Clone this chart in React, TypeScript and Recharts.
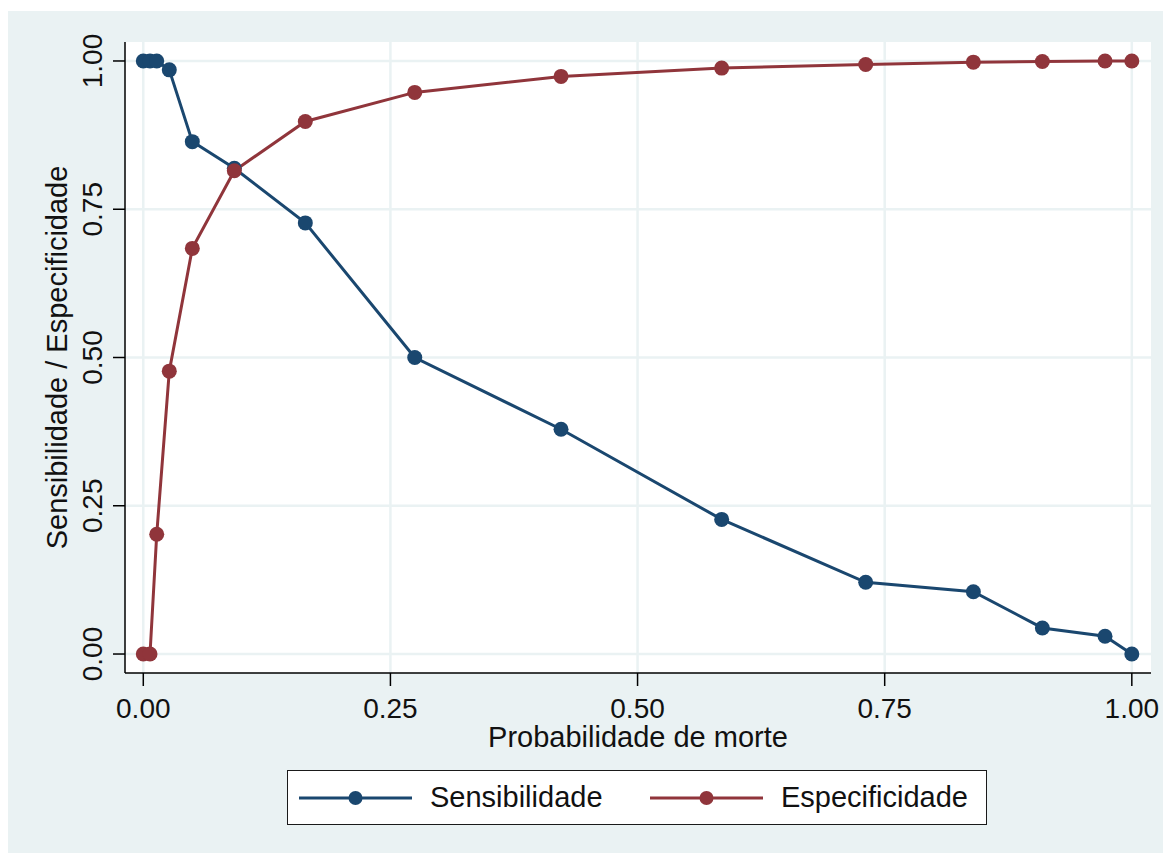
import { LineChart, Line, XAxis, YAxis, CartesianGrid } from "recharts";

// cut-off probabilities and the two curves evaluated at each one
const prob = [0, 0.0068, 0.0136, 0.0263, 0.0496, 0.0921, 0.1639, 0.2746, 0.4226, 0.5851, 0.7308, 0.8397, 0.9095, 0.9729, 1.0];
const sensibilidade = [1, 1, 1, 0.985, 0.864, 0.819, 0.727, 0.5, 0.379, 0.227, 0.121, 0.105, 0.044, 0.03, 0];
const especificidade = [0, 0, 0.202, 0.477, 0.684, 0.815, 0.898, 0.947, 0.974, 0.988, 0.994, 0.998, 0.999, 1, 1];

const xTicks = [0, 0.25, 0.5, 0.75, 1];
const yTicks = [0, 0.25, 0.5, 0.75, 1];

const series = [
  { key: "sens", name: "Sensibilidade", color: "#1A476F" },
  { key: "espec", name: "Especificidade", color: "#90353B" },
];

const data = prob.map((x, i) => ({
  x,
  sens: sensibilidade[i],
  espec: especificidade[i],
}));

const FONT = '"Liberation Sans", Arial, Helvetica, sans-serif';
const BG = "#EAF2F3";
const INK = "#111";

const W = 1163;
const H = 845;
const MARGIN = { top: 31, right: 20, left: 0, bottom: 0 };
const Y_AXIS_W = 117;
const X_AXIS_H = 183;
const PLOT_W = W - MARGIN.right - Y_AXIS_W;
const PLOT_H = H - MARGIN.top - X_AXIS_H;

function YTick(props: any) {
  const { x, y, payload } = props;
  return (
    <text
      x={x}
      y={y}
      transform={`rotate(-90 ${x} ${y})`}
      textAnchor="middle"
      fontSize={28}
      fill={INK}
      fontFamily={FONT}
    >
      {Number(payload.value).toFixed(2)}
    </text>
  );
}

function XTitle() {
  return (
    <text
      x={Y_AXIS_W + PLOT_W / 2}
      y={MARGIN.top + PLOT_H + 74}
      textAnchor="middle"
      fontSize={29}
      fill={INK}
      fontFamily={FONT}
    >
      Probabilidade de morte
    </text>
  );
}

function YTitle() {
  const x = 58.7;
  const y = MARGIN.top + PLOT_H / 2;
  return (
    <text
      x={x}
      y={y}
      transform={`rotate(-90 ${x} ${y})`}
      textAnchor="middle"
      fontSize={29}
      fill={INK}
      fontFamily={FONT}
    >
      Sensibilidade / Especificidade
    </text>
  );
}

function LegendBox() {
  return (
    <div
      style={{
        position: "absolute",
        left: 279,
        top: 759,
        width: 700,
        height: 55,
        boxSizing: "border-box",
        border: "1.2px solid #1a1a1a",
        background: "#fff",
        display: "flex",
        alignItems: "center",
        paddingLeft: 11,
        fontFamily: FONT,
        fontSize: 29,
        color: INK,
      }}
    >
      {series.map((s) => (
        <div key={s.key} style={{ display: "flex", alignItems: "center", width: 351, flexShrink: 0 }}>
          <svg width={113} height={20} style={{ display: "block" }}>
            <line x1={0} y1={10} x2={113} y2={10} stroke={s.color} strokeWidth={3} />
            <circle cx={56.5} cy={10} r={7} fill={s.color} />
          </svg>
          <span style={{ marginLeft: 18, whiteSpace: "nowrap" }}>{s.name}</span>
        </div>
      ))}
    </div>
  );
}

export default function App() {
  return (
    <>
      <style>{"html,body{overflow:hidden}"}</style>
      <div
        style={{
          position: "relative",
          top: 3,
          width: W,
          height: H,
          background: BG,
          fontFamily: FONT,
        }}
      >
        <LineChart width={W} height={H} data={data} margin={MARGIN}>
          <CartesianGrid
            stroke={BG}
            strokeWidth={2.5}
            fill="#fff"
            horizontalValues={yTicks}
            verticalValues={xTicks}
          />
          <XAxis
            dataKey="x"
            type="number"
            domain={[-0.0185, 1.0194]}
            allowDataOverflow
            ticks={xTicks}
            tickFormatter={(v: number) => v.toFixed(2)}
            height={X_AXIS_H}
            tickSize={13}
            tickMargin={12}
            axisLine={{ stroke: "#000", strokeWidth: 1.5 }}
            tickLine={{ stroke: "#000", strokeWidth: 1.5 }}
            tick={{ fontSize: 28, fill: INK, fontFamily: FONT }}
            label={<XTitle />}
          />
          <YAxis
            type="number"
            domain={[-0.032, 1.032]}
            allowDataOverflow
            ticks={yTicks}
            width={Y_AXIS_W}
            tickSize={12}
            tickMargin={11}
            axisLine={{ stroke: "#000", strokeWidth: 1.5 }}
            tickLine={{ stroke: "#000", strokeWidth: 1.5 }}
            tick={<YTick />}
            label={<YTitle />}
          />
          {series.map((s) => (
            <Line
              key={s.key}
              dataKey={s.key}
              name={s.name}
              type="linear"
              stroke={s.color}
              strokeWidth={3}
              dot={{ r: 7.5, fill: s.color, stroke: s.color, strokeWidth: 0 }}
              isAnimationActive={false}
            />
          ))}
        </LineChart>
        <LegendBox />
      </div>
    </>
  );
}
